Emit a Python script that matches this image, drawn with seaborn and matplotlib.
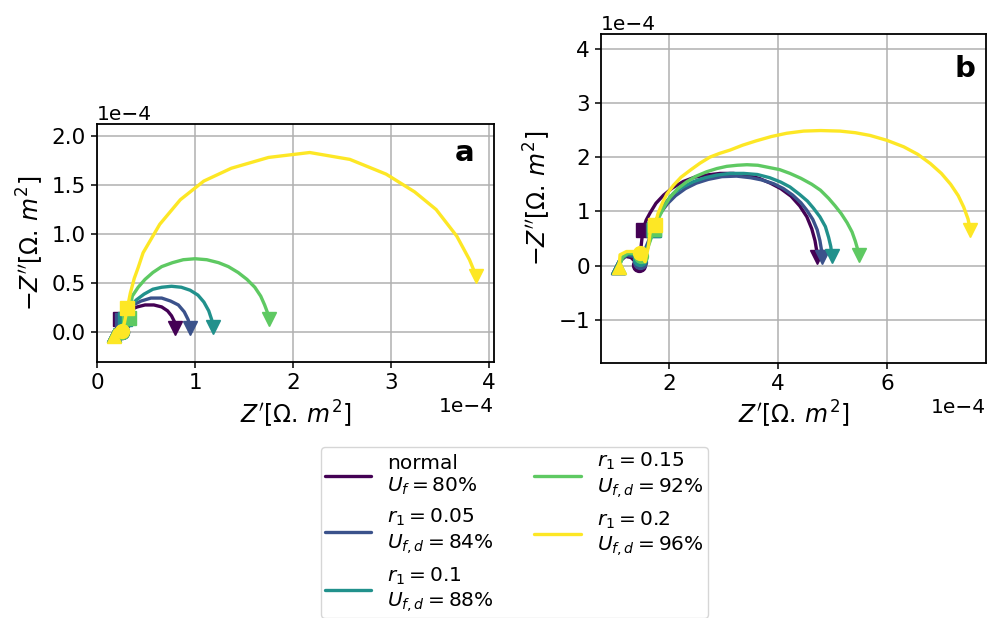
import matplotlib
matplotlib.use("Agg")
import matplotlib.pyplot as plt
import seaborn as sns
import pandas as pd
import numpy as np

sns.set_style("ticks")
plt.rcParams['font.family'] = ['DejaVu Sans']
for k in ["text.color", "axes.labelcolor", "xtick.color", "ytick.color", "axes.edgecolor"]:
    plt.rcParams[k] = "black"

SCALE = 1e-4
labels = [
    "normal\n$U_f = 80\\%$",
    "$r_1 = 0.05$\n$U_{f,d} = 84\\%$",
    "$r_1 = 0.1$\n$U_{f,d} = 88\\%$",
    "$r_1 = 0.15$\n$U_{f,d} = 92\\%$",
    "$r_1 = 0.2$\n$U_{f,d} = 96\\%$",
]
colors = ["#440154", "#3b528b", "#21918c", "#5ec962", "#fde725"]

# ---- panel a (values in units of 1e-4 Ohm m^2) ----
a_x = [
    [0.17, 0.20, 0.23, 0.25, 0.24, 0.23, 0.28, 0.34, 0.41, 0.49, 0.58, 0.66, 0.72, 0.76, 0.79, 0.80],
    [0.17, 0.20, 0.23, 0.25, 0.25, 0.26, 0.31, 0.37, 0.45, 0.55, 0.66, 0.75, 0.83, 0.89, 0.93, 0.95],
    [0.17, 0.20, 0.23, 0.25, 0.27, 0.29, 0.33, 0.40, 0.48, 0.57, 0.66, 0.76, 0.86, 0.95, 1.03, 1.09, 1.14, 1.17, 1.18],
    [0.17, 0.20, 0.23, 0.25, 0.29, 0.33, 0.34, 0.36, 0.42, 0.49, 0.57, 0.66, 0.77, 0.88, 1.00, 1.12, 1.24, 1.34,
     1.44, 1.53, 1.61, 1.67, 1.71, 1.74, 1.75],
    [0.17, 0.20, 0.23, 0.25, 0.28, 0.31, 0.34, 0.38, 0.42, 0.47, 0.64, 0.85, 1.09, 1.37, 1.75, 2.17, 2.58, 2.95,
     3.24, 3.46, 3.67, 3.80, 3.87],
]
a_y = [
    [-0.03, 0.02, 0.03, 0.01, 0.08, 0.14, 0.19, 0.23, 0.26, 0.28, 0.28, 0.26, 0.22, 0.17, 0.11, 0.045],
    [-0.03, 0.02, 0.03, 0.01, 0.07, 0.13, 0.21, 0.28, 0.32, 0.35, 0.35, 0.32, 0.28, 0.21, 0.13, 0.045],
    [-0.03, 0.02, 0.03, 0.01, 0.07, 0.14, 0.25, 0.33, 0.39, 0.44, 0.46, 0.47, 0.46, 0.43, 0.38, 0.31, 0.22, 0.13, 0.06],
    [-0.03, 0.02, 0.03, 0.01, 0.08, 0.15, 0.26, 0.37, 0.46, 0.54, 0.61, 0.67, 0.71, 0.74, 0.75, 0.74, 0.71, 0.67,
     0.61, 0.54, 0.46, 0.37, 0.28, 0.20, 0.14],
    [-0.04, 0.03, 0.05, 0.02, 0.10, 0.25, 0.40, 0.55, 0.66, 0.81, 1.10, 1.35, 1.54, 1.67, 1.78, 1.83, 1.76, 1.61,
     1.43, 1.25, 0.98, 0.74, 0.57],
]
a_circ = [3, 3, 3, 3, 3]
a_sq = [5, 5, 5, 5, 5]

# ---- panel b ----
b_x = [
    [1.06, 1.12, 1.20, 1.30, 1.44, 1.48, 1.52, 1.58, 1.65, 1.76, 1.90, 2.06, 2.26, 2.47, 2.69, 2.94, 3.18, 3.42,
     3.65, 3.86, 4.05, 4.24, 4.40, 4.53, 4.62, 4.68, 4.71, 4.72],
    [1.06, 1.13, 1.22, 1.34, 1.46, 1.56, 1.70, 1.76, 1.85, 1.97, 2.12, 2.30, 2.50, 2.72, 2.97, 3.24, 3.50, 3.70,
     3.92, 4.10, 4.27, 4.42, 4.53, 4.64, 4.72, 4.77, 4.80, 4.81],
    [1.07, 1.14, 1.24, 1.36, 1.47, 1.58, 1.72, 1.77, 1.83, 1.95, 2.08, 2.25, 2.45, 2.66, 2.88, 3.12, 3.37, 3.62,
     3.85, 4.05, 4.22, 4.40, 4.54, 4.65, 4.77, 4.87, 4.93, 4.97, 4.99],
    [1.08, 1.15, 1.25, 1.38, 1.48, 1.60, 1.73, 1.78, 1.83, 1.92, 2.01, 2.16, 2.33, 2.50, 2.69, 2.88, 3.06, 3.25,
     3.43, 3.63, 3.83, 4.03, 4.22, 4.42, 4.62, 4.78, 4.93, 5.05, 5.16, 5.27, 5.36, 5.42, 5.46, 5.48],
    [1.08, 1.10, 1.22, 1.35, 1.47, 1.56, 1.62, 1.65, 1.74, 1.80, 1.88, 1.96, 2.08, 2.22, 2.39, 2.57, 2.75, 2.93,
     3.12, 3.35, 3.60, 3.88, 4.16, 4.47, 4.78, 5.14, 5.42, 5.69, 6.00, 6.31, 6.57, 6.80, 7.00, 7.17, 7.31, 7.41,
     7.49, 7.53],
]
b_y = [
    [-0.03, 0.10, 0.17, 0.15, 0.01, 0.30, 0.66, 0.84, 0.97, 1.15, 1.30, 1.43, 1.55, 1.63, 1.67, 1.70, 1.70, 1.67,
     1.61, 1.52, 1.42, 1.28, 1.10, 0.90, 0.68, 0.46, 0.28, 0.15],
    [-0.03, 0.12, 0.19, 0.17, 0.06, 0.30, 0.65, 0.82, 0.98, 1.14, 1.29, 1.42, 1.52, 1.59, 1.64, 1.65, 1.62, 1.58,
     1.51, 1.42, 1.30, 1.16, 1.02, 0.85, 0.66, 0.46, 0.28, 0.16],
    [-0.03, 0.14, 0.21, 0.20, 0.12, 0.30, 0.65, 0.84, 1.00, 1.18, 1.33, 1.45, 1.55, 1.62, 1.67, 1.70, 1.70, 1.68,
     1.62, 1.54, 1.45, 1.31, 1.19, 1.06, 0.90, 0.72, 0.52, 0.35, 0.18],
    [-0.03, 0.16, 0.23, 0.22, 0.17, 0.30, 0.68, 0.80, 0.92, 1.10, 1.25, 1.42, 1.55, 1.65, 1.73, 1.79, 1.83, 1.85,
     1.86, 1.85, 1.81, 1.77, 1.70, 1.61, 1.50, 1.39, 1.24, 1.10, 0.96, 0.79, 0.62, 0.45, 0.31, 0.20],
    [-0.03, 0.20, 0.26, 0.26, 0.23, 0.07, 0.35, 0.60, 0.75, 0.97, 1.16, 1.32, 1.48, 1.63, 1.76, 1.89, 2.00, 2.07,
     2.13, 2.22, 2.30, 2.38, 2.44, 2.48, 2.49, 2.48, 2.45, 2.40, 2.31, 2.19, 2.05, 1.88, 1.70, 1.50, 1.29, 1.08,
     0.86, 0.66],
]
b_circ = [4, 4, 4, 4, 4]
b_sq = [6, 6, 6, 6, 8]

W, H = 989, 618
fig = plt.figure(figsize=(W / 100, H / 100), dpi=100)
ax_a = fig.add_axes([97 / W, 1 - 362 / H, 397 / W, 238 / H])
ax_b = fig.add_axes([601 / W, 1 - 362.7 / H, 385 / W, 328.7 / H])

MS = 10
LW = 2.4


def draw(ax, xs, ys, circ, sq):
    for i in range(len(xs)):
        df = pd.DataFrame({"x": np.array(xs[i]) * SCALE, "y": np.array(ys[i]) * SCALE})
        sns.lineplot(data=df, x="x", y="y", sort=False, estimator=None, ax=ax,
                     color=colors[i], lw=LW, label=labels[i], legend=False)
        px = df["x"].values
        py = df["y"].values
        ax.plot(px[0], py[0], marker="^", ms=MS, color=colors[i], ls="none")
        ax.plot(px[circ[i]], py[circ[i]], marker="o", ms=MS, color=colors[i], ls="none")
        ax.plot(px[sq[i]], py[sq[i]], marker="s", ms=MS, color=colors[i], ls="none")
        ax.plot(px[-1], py[-1], marker="v", ms=MS, color=colors[i], ls="none")


draw(ax_a, a_x, a_y, a_circ, a_sq)
draw(ax_b, b_x, b_y, b_circ, b_sq)

ax_a.set_xlim(0, 4.05e-4)
ax_a.set_ylim(-0.30e-4, 2.12e-4)
ax_a.set_xticks(np.array([0, 1, 2, 3, 4]) * SCALE)
ax_a.set_yticks(np.array([0.0, 0.5, 1.0, 1.5, 2.0]) * SCALE)
ax_b.set_xlim(0.75e-4, 7.82e-4)
ax_b.set_ylim(-1.79e-4, 4.27e-4)
ax_b.set_xticks(np.array([2, 4, 6]) * SCALE)
ax_b.set_yticks(np.array([-1, 0, 1, 2, 3, 4]) * SCALE)

for ax in (ax_a, ax_b):
    ax.ticklabel_format(style="sci", scilimits=(0, 0), axis="both")
    ax.grid(True, color="#b0b0b0", lw=1.1)
    ax.set_axisbelow(True)
    for s in ax.spines.values():
        s.set_color("black")
        s.set_linewidth(1.3)
    ax.tick_params(labelsize=15.5, color="black", length=4.5, width=1.1)
    ax.xaxis.get_offset_text().set_fontsize(14.5)
    ax.yaxis.get_offset_text().set_fontsize(14.5)
    ax.set_xlabel(r"$Z^{\prime}[\Omega.\,m^2]$", fontsize=17)
    ax.set_ylabel(r"$-Z^{\prime\prime}[\Omega.\,m^2]$", fontsize=17)

ax_a.text(0.925, 0.88, "a", transform=ax_a.transAxes, fontsize=21, fontweight="bold",
          ha="center", va="center")
ax_b.text(0.945, 0.895, "b", transform=ax_b.transAxes, fontsize=21, fontweight="bold",
          ha="center", va="center")

handles, labs = ax_a.get_legend_handles_labels()
fig.legend(handles, labs, loc="upper center", bbox_to_anchor=(0.52, 1 - 447 / H),
           ncol=2, fontsize=14.5, handlelength=2.3, frameon=True, columnspacing=2.0,
           labelspacing=0.5, borderpad=0.2, borderaxespad=0.0)

fig.savefig("out.png", dpi=100)
